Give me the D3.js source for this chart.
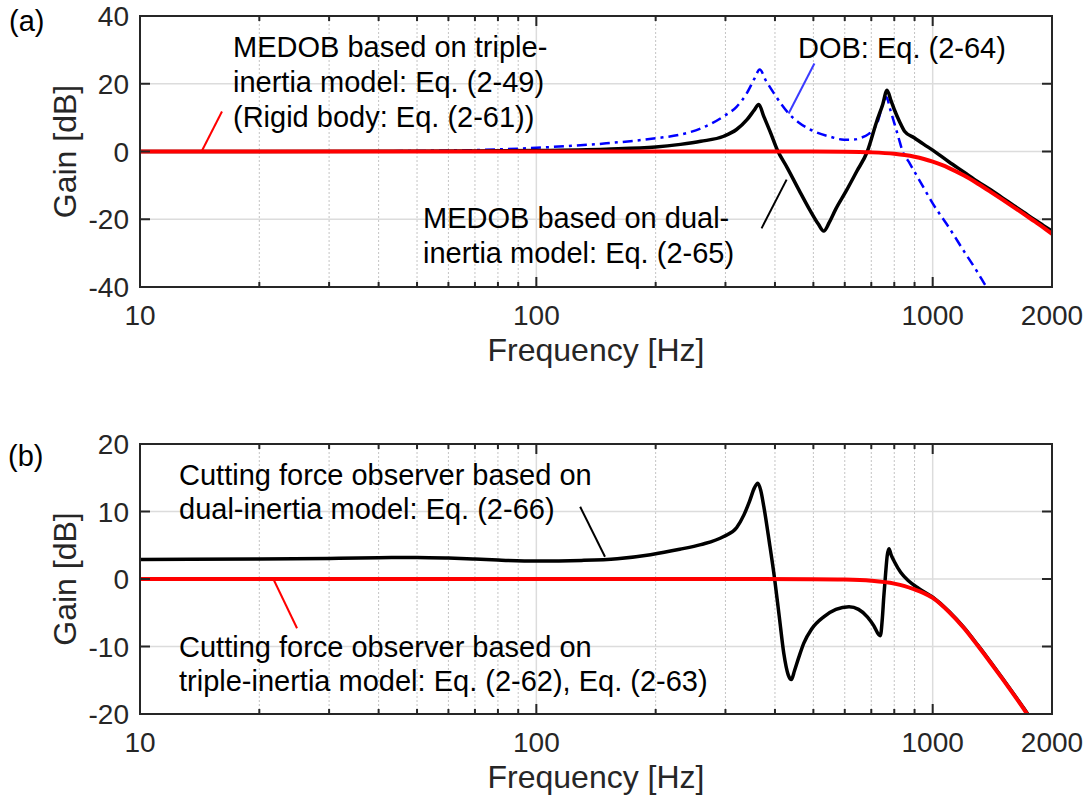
<!DOCTYPE html>
<html>
<head>
<meta charset="utf-8">
<script src="https://cdn.jsdelivr.net/npm/d3@7"></script>
<style>
body{margin:0;background:#fff}
svg{display:block;font-family:"Liberation Sans",Arial,Helvetica,sans-serif}
</style>
</head>
<body>
<div id="graph"></div>
<script>
!(function(){
"use strict"

// ---- data ----
var freqLabels = [10, 100, 1000, 2000]
var freqMajor = [10, 100, 1000]
var freqMinor = [20, 30, 40, 50, 60, 70, 80, 90, 200, 300, 400, 500, 600, 700, 800, 900]
var gainTicksA = [-40, -20, 0, 20, 40]
var gainTicksB = [-20, -10, 0, 10, 20]

// (a) MEDOB based on triple-inertia model
var triFreqA = [10, 100, 300, 500, 600, 700, 800, 850, 900, 950, 1000, 1050, 1100, 1200, 1300, 1400, 1500, 1600, 1700, 1800, 1900, 2000]
var triGainA = [0, 0, 0, -0.02, -0.07, -0.25, -0.68, -1.05, -1.55, -2.2, -3.0, -3.9, -4.9, -7.1, -9.5, -11.9, -14.2, -16.4, -18.5, -20.5, -22.4, -24.3]

// (a) MEDOB based on dual-inertia model
var dualFreqA = [10, 50, 70, 100, 150, 200, 231, 260, 297, 320, 340, 355, 364, 375, 390, 405, 430, 460, 490, 515, 531, 548, 569, 604, 643, 684, 722, 748, 767, 785, 800, 825, 849, 900, 950, 1000, 1100, 1200, 1300, 1400, 1500, 1600, 1700, 1800, 1900, 2000]
var dualGainA = [0, 0.05, 0.15, 0.3, 0.7, 1.3, 2.1, 3.0, 4.5, 6.5, 9.4, 12.3, 13.9, 10.3, 5.5, 0.6, -4.9, -11.4, -17.3, -21.5, -23.5, -21.0, -17.1, -11.8, -5.9, 0, 8.8, 13.9, 18.1, 15.0, 12.4, 8.8, 6.0, 4.0, 2.1, 0.4, -3.1, -6.1, -8.9, -11.3, -13.7, -15.9, -18.0, -20.0, -21.8, -23.5]

// (a) DOB
var dobFreqA = [10, 30, 50, 70, 100, 150, 200, 231, 260, 297, 320, 340, 355, 366, 380, 397, 415, 432, 460, 501, 550, 597, 630, 658, 690, 718, 730, 743, 755, 765, 780, 800, 820, 840, 870, 900, 950, 1000, 1100, 1200, 1300, 1361, 1400]
var dobGainA = [0, 0.05, 0.15, 0.4, 1.1, 2.4, 3.9, 5.0, 6.8, 10.4, 13.2, 17.3, 21.5, 24.2, 20.8, 17.3, 14.0, 11.4, 8.5, 6.0, 4.4, 3.5, 3.5, 4.0, 5.2, 7.5, 9.5, 12.8, 15.0, 16.0, 12.7, 8.4, 4.1, 0, -3.0, -6.0, -10.8, -15.3, -22.5, -29.5, -35.8, -39.7, -42.0]

// (b) cutting force observer based on dual-inertia model
var dualFreqB = [10, 20, 30, 40, 50, 60, 70, 80, 100, 130, 160, 194, 230, 260, 297, 320, 334, 345, 355, 362, 368, 375, 387, 399, 410, 421, 432, 440, 448, 460, 473, 495, 531, 570, 615, 650, 684, 710, 730, 738, 746, 753, 760, 768, 776, 785, 800, 830, 870, 922, 1000, 1100, 1200, 1300, 1400, 1500, 1600, 1700, 1800]
var dualGainB = [2.9, 2.95, 3.05, 3.15, 3.2, 3.1, 2.95, 2.8, 2.65, 2.75, 3.0, 3.6, 4.4, 5.1, 6.3, 7.6, 9.5, 11.5, 13.5, 14.2, 13.2, 10.7, 5.5, 0.1, -5.5, -11.0, -14.2, -14.9, -13.6, -11.5, -9.5, -7.4, -5.6, -4.5, -4.1, -4.5, -5.6, -6.9, -8.2, -8.4, -6.0, -2.5, 0.5, 3.5, 4.5, 3.6, 2.6, 1.0, -0.3, -1.4, -2.7, -4.8, -7.2, -9.8, -12.3, -14.7, -17.0, -19.2, -21.4]

// (b) cutting force observer based on triple-inertia model
var triFreqB = [10, 100, 300, 500, 600, 700, 800, 850, 900, 950, 1000, 1100, 1200, 1300, 1400, 1500, 1600, 1700, 1800]
var triGainB = [0, 0, 0, -0.02, -0.07, -0.25, -0.68, -1.05, -1.55, -2.1, -2.8, -4.9, -7.3, -9.9, -12.4, -14.8, -17.1, -19.3, -21.5]

// ---- styles ----
var width = 1090, height = 800
var axisColor = "#262626"
var majorGridColor = "#dcdcdc"
var minorGridColor = "#c4c4c4"

var svg = d3.select("#graph").append("svg")
	.attr("width", width).attr("height", height)

var x = d3.scaleLog().domain([10, 2000]).range([140, 1052])

var panels = [
	{
		name: "a", label: "(a)", labelX: 9, labelY: 31,
		top: 16, bottom: 287, yDomain: [-40, 40], yTicks: gainTicksA,
		series: [
			{f: dobFreqA, g: dobGainA, color: "#0000ff", w: 2.5, dash: "10,5,3,5"},
			{f: dualFreqA, g: dualGainA, color: "#000", w: 3.5},
			{f: triFreqA, g: triGainA, color: "#ff0000", w: 4}
		],
		leaders: [
			{p: [[14.3, 0], [16.1, 11.8]], color: "#ff0000"},
			{p: [[503, 26.0], [433, 11.2]], color: "#3a3aff"},
			{p: [[428, -8.3], [370, -22.7]], color: "#000"}
		],
		notes: [
			{x: 233, y: 57, lines: ["MEDOB based on triple-", "inertia model: Eq. (2-49)", "(Rigid body: Eq. (2-61))"]},
			{x: 798, y: 58, lines: ["DOB: Eq. (2-64)"]},
			{x: 423, y: 228, lines: ["MEDOB based on dual-", "inertia model: Eq. (2-65)"]}
		],
		lineGap: 35
	},
	{
		name: "b", label: "(b)", labelX: 8, labelY: 466,
		top: 444, bottom: 714, yDomain: [-20, 20], yTicks: gainTicksB,
		series: [
			{f: dualFreqB, g: dualGainB, color: "#000", w: 3.5},
			{f: triFreqB, g: triGainB, color: "#ff0000", w: 4}
		],
		leaders: [
			{p: [[129, 10.7], [149, 3.3]], color: "#000"},
			{p: [[21.7, 0], [24.9, -7.3]], color: "#ff0000"}
		],
		notes: [
			{x: 179, y: 485, lines: ["Cutting force observer based on", "dual-inertia model: Eq. (2-66)"]},
			{x: 179, y: 657, lines: ["Cutting force observer based on", "triple-inertia model: Eq. (2-62), Eq. (2-63)"]}
		],
		lineGap: 34
	}
]

panels.forEach(drawPanel)

function drawPanel(p) {
	var y = d3.scaleLinear().domain(p.yDomain).range([p.bottom, p.top])
	var x0 = x.range()[0], x1 = x.range()[1]
	var g = svg.append("g").attr("class", "panel-" + p.name)

	g.append("clipPath").attr("id", "clip-" + p.name)
		.append("rect")
		.attr("x", x0).attr("y", p.top)
		.attr("width", x1 - x0).attr("height", p.bottom - p.top)

	// grid
	g.append("g").selectAll("line").data(freqMinor).enter().append("line")
		.attr("x1", function(d){ return x(d) }).attr("x2", function(d){ return x(d) })
		.attr("y1", p.top).attr("y2", p.bottom)
		.attr("stroke", minorGridColor).attr("stroke-width", 1).attr("stroke-dasharray", "2,2")
	g.append("g").selectAll("line").data(freqMajor.slice(1)).enter().append("line")
		.attr("x1", function(d){ return x(d) }).attr("x2", function(d){ return x(d) })
		.attr("y1", p.top).attr("y2", p.bottom)
		.attr("stroke", majorGridColor).attr("stroke-width", 1.5)
	g.append("g").selectAll("line").data(p.yTicks.slice(1, -1)).enter().append("line")
		.attr("x1", x0).attr("x2", x1)
		.attr("y1", function(d){ return y(d) }).attr("y2", function(d){ return y(d) })
		.attr("stroke", majorGridColor).attr("stroke-width", 1.5)

	// curves
	var line = d3.line()
		.x(function(d){ return x(d[0]) })
		.y(function(d){ return y(d[1]) })
		.curve(d3.curveMonotoneX)
	var curves = g.append("g").attr("clip-path", "url(#clip-" + p.name + ")")
	p.series.forEach(function(s){
		var pts = s.f.map(function(f, i){ return [f, s.g[i]] })
		curves.append("path")
			.datum(pts)
			.attr("d", line)
			.attr("fill", "none")
			.attr("stroke", s.color)
			.attr("stroke-width", s.w)
			.attr("stroke-linejoin", "round")
			.attr("stroke-dasharray", s.dash || null)
	})

	// leader lines of the annotations
	g.append("g").selectAll("line").data(p.leaders).enter().append("line")
		.attr("x1", function(d){ return x(d.p[0][0]) }).attr("y1", function(d){ return y(d.p[0][1]) })
		.attr("x2", function(d){ return x(d.p[1][0]) }).attr("y2", function(d){ return y(d.p[1][1]) })
		.attr("stroke", function(d){ return d.color }).attr("stroke-width", 2)

	// box
	g.append("rect")
		.attr("x", x0).attr("y", p.top)
		.attr("width", x1 - x0).attr("height", p.bottom - p.top)
		.attr("fill", "none").attr("stroke", axisColor).attr("stroke-width", 2)

	// ticks (inside, on all four sides)
	var ticks = g.append("g").attr("stroke", axisColor).attr("stroke-width", 2)
	freqMajor.concat(freqMinor).forEach(function(f){
		var len = freqMajor.indexOf(f) >= 0 ? 10 : 5
		ticks.append("line").attr("x1", x(f)).attr("x2", x(f)).attr("y1", p.bottom).attr("y2", p.bottom - len)
		ticks.append("line").attr("x1", x(f)).attr("x2", x(f)).attr("y1", p.top).attr("y2", p.top + len)
	})
	p.yTicks.forEach(function(v){
		ticks.append("line").attr("x1", x0).attr("x2", x0 + 10).attr("y1", y(v)).attr("y2", y(v))
		ticks.append("line").attr("x1", x1).attr("x2", x1 - 10).attr("y1", y(v)).attr("y2", y(v))
	})

	// tick labels
	g.append("g").selectAll("text").data(freqLabels).enter().append("text")
		.attr("x", function(d){ return x(d) })
		.attr("y", p.bottom + 38)
		.attr("text-anchor", "middle")
		.attr("font-size", 28).attr("fill", axisColor)
		.text(function(d){ return d })
	g.append("g").selectAll("text").data(p.yTicks).enter().append("text")
		.attr("x", x0 - 11)
		.attr("y", function(d){ return y(d) })
		.attr("dy", "0.36em")
		.attr("text-anchor", "end")
		.attr("font-size", 28).attr("fill", axisColor)
		.text(function(d){ return d })

	// axis titles
	g.append("text")
		.attr("x", (x0 + x1) / 2).attr("y", p.bottom + 74)
		.attr("text-anchor", "middle")
		.attr("font-size", 32).attr("fill", axisColor)
		.text("Frequency [Hz]")
	g.append("text")
		.attr("transform", "translate(76," + ((p.top + p.bottom) / 2) + ") rotate(-90)")
		.attr("text-anchor", "middle")
		.attr("font-size", 32).attr("fill", axisColor)
		.text("Gain [dB]")

	// panel label
	g.append("text")
		.attr("x", p.labelX).attr("y", p.labelY)
		.attr("font-size", 29).attr("fill", "#000")
		.text(p.label)

	// annotations
	p.notes.forEach(function(n){
		var t = g.append("text")
			.attr("x", n.x).attr("y", n.y)
			.attr("font-size", 29).attr("fill", "#000")
		n.lines.forEach(function(s, i){
			t.append("tspan").attr("x", n.x).attr("y", n.y + i * p.lineGap).text(s)
		})
	})
}
}());
</script>
</body>
</html>
